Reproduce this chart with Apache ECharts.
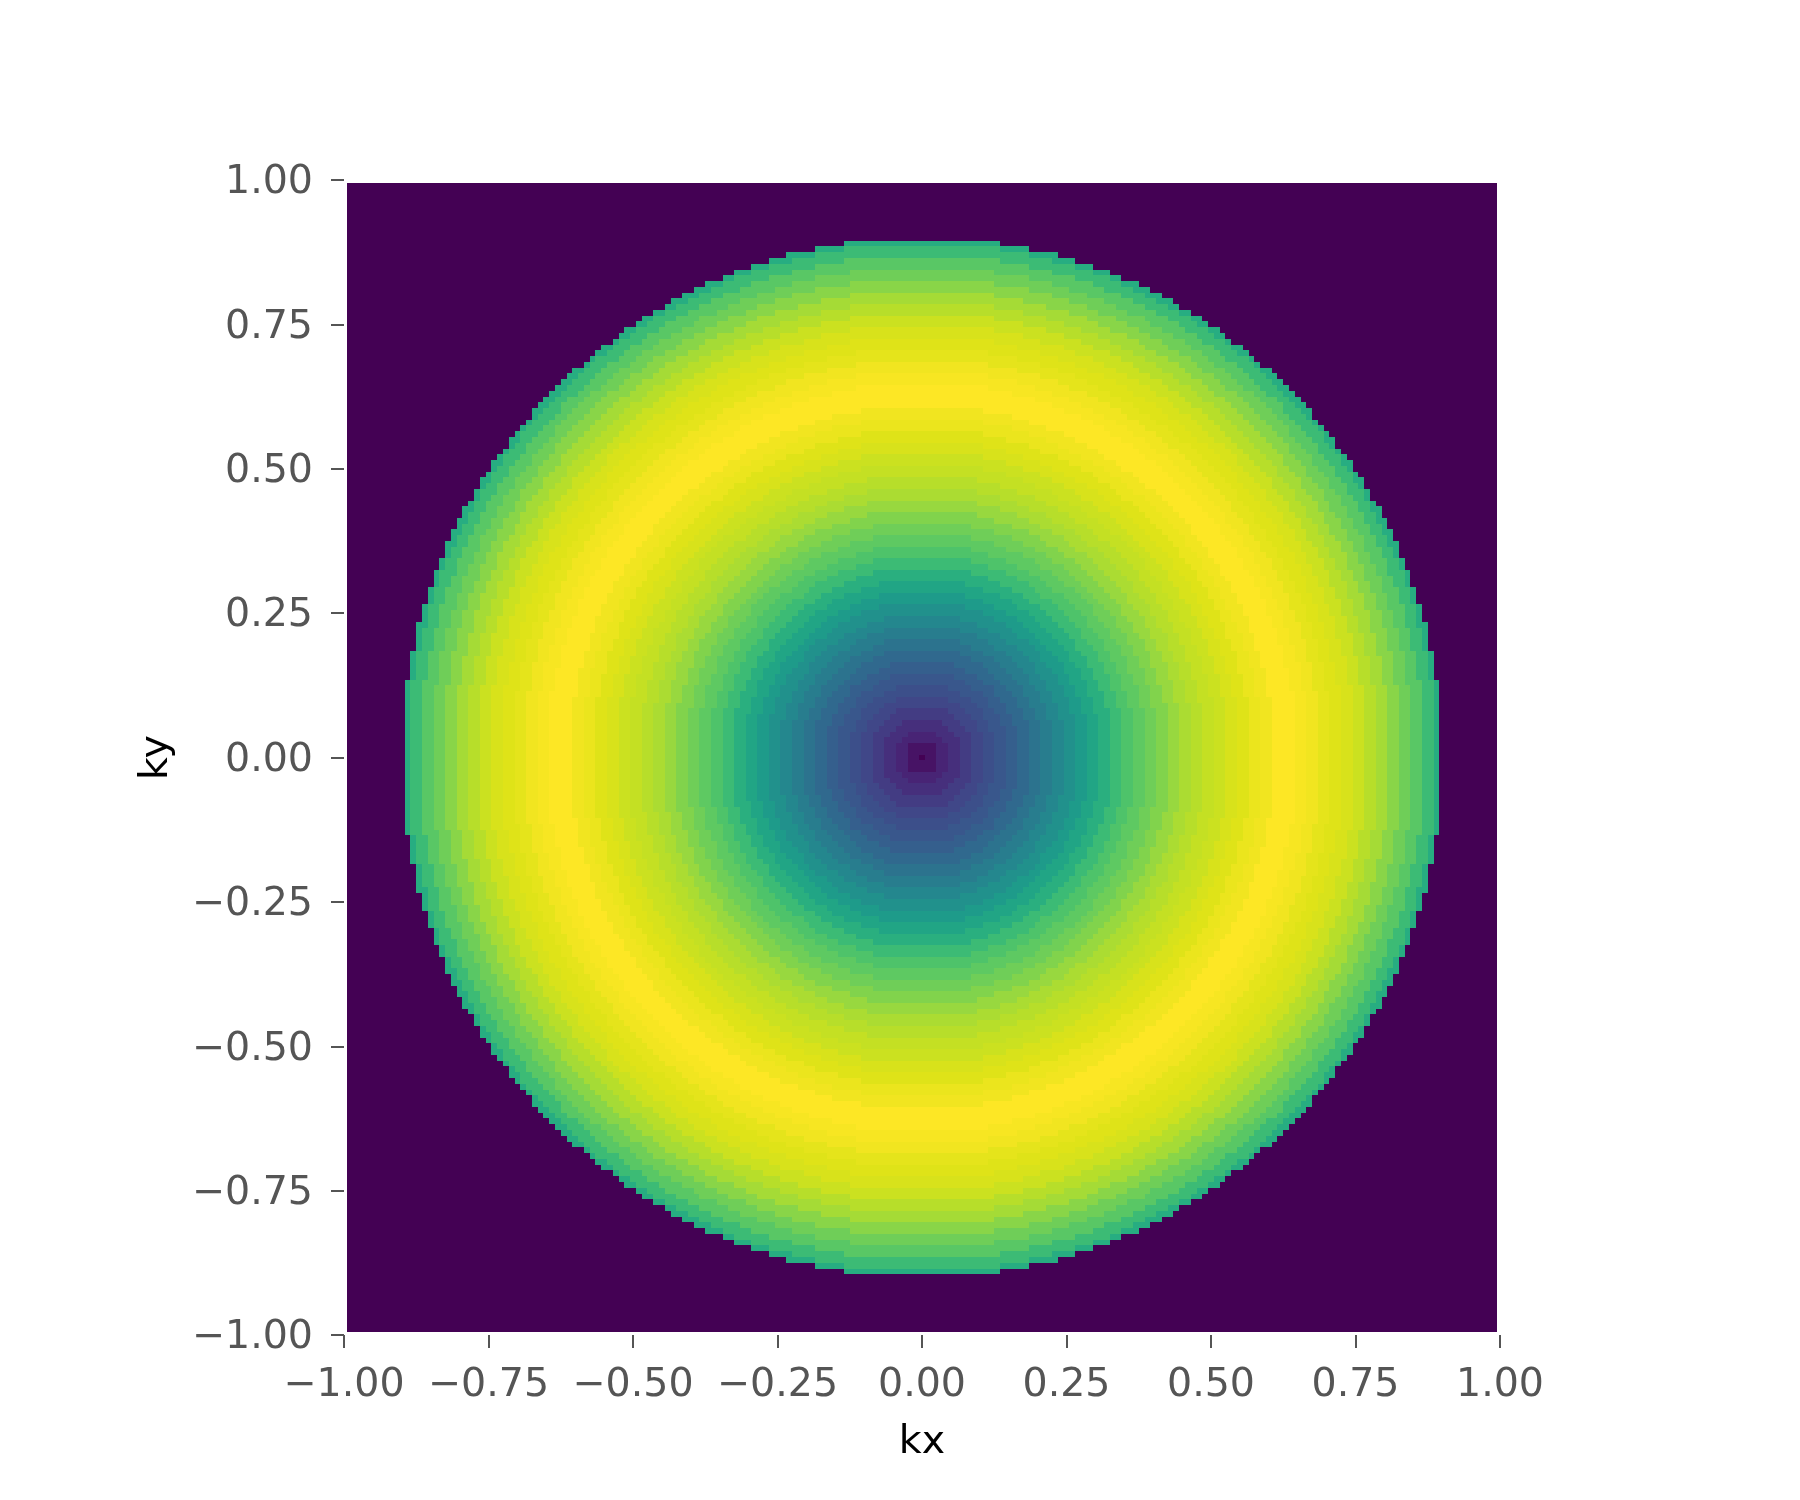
<!DOCTYPE html>
<html><head><meta charset="utf-8">
<script src="https://cdn.jsdelivr.net/npm/echarts@6/dist/echarts.min.js"></script>
<style>html,body{margin:0;padding:0;background:#fff}#chart{width:1800px;height:1500px}</style>
</head><body><div id="chart"></div>
<script>
// ---- data ----
const tickValues = [-1.0, -0.75, -0.5, -0.25, 0.0, 0.25, 0.5, 0.75, 1.0];
const xAxisName = 'kx';
const yAxisName = 'ky';
const profileRadii = [0.00, 0.02, 0.04, 0.06, 0.08, 0.10, 0.12, 0.14, 0.16, 0.18,
                      0.20, 0.22, 0.24, 0.26, 0.28, 0.30, 0.32, 0.34, 0.36, 0.38,
                      0.40, 0.42, 0.44, 0.46, 0.48, 0.50, 0.52, 0.54, 0.56, 0.58,
                      0.60, 0.62, 0.64, 0.66, 0.68, 0.70, 0.72, 0.74, 0.76, 0.78,
                      0.80, 0.82, 0.84, 0.86, 0.88, 0.90];
const profileValues = [0.00, 0.05, 0.10, 0.13, 0.17, 0.21, 0.24, 0.27, 0.30, 0.34,
                       0.38, 0.42, 0.46, 0.50, 0.55, 0.59, 0.63, 0.68, 0.72, 0.75,
                       0.78, 0.81, 0.84, 0.87, 0.89, 0.91, 0.92, 0.94, 0.95, 0.97,
                       0.98, 1.00, 1.00, 0.99, 0.98, 0.96, 0.95, 0.94, 0.92, 0.89,
                       0.86, 0.82, 0.78, 0.74, 0.68, 0.62];
const discRadius = 0.9;      // outside this |k| the value is the minimum
const outsideValue = 0.0;
const cellSize = 0.01;       // grid spacing in k
const cellCount = 199;       // cell centres from -0.99 to 0.99
const viridis = ['#440154','#471365','#482475','#453781','#414487','#3b528b','#355f8d',
                 '#2f6c8e','#2a788e','#25848e','#21918c','#1e9b8a','#22a884','#2fb47c',
                 '#44bf70','#5ec962','#7ad151','#9fda3a','#bddf26','#dfe318','#fde725'];

// ---- build grid ----
const kCentres = Array.from({length: cellCount}, (_, i) => +(-0.99 + i * cellSize).toFixed(2));
function profileAt(r) {
  const rr = r + 1e-6;   // break exact ties outward
  let best = 0, bd = Infinity;
  for (let i = 0; i < profileRadii.length; i++) {
    const d = Math.abs(profileRadii[i] - rr);
    if (d < bd) { bd = d; best = i; }
  }
  return profileValues[best];
}
const cells = [];
for (const ky of kCentres) {
  for (const kx of kCentres) {
    const r = Math.hypot(kx, ky);
    cells.push([kx, ky, r < discRadius - 1e-6 ? profileAt(r) : outsideValue]);
  }
}

const fmt = v => (v < 0 ? '\u2212' : '') + Math.abs(v).toFixed(2);
const font = 'DejaVu Sans';
const half = cellSize / 2;

const chart = echarts.init(document.getElementById('chart'), null, {renderer: 'canvas'});
chart.setOption({
  backgroundColor: '#ffffff',
  animation: false,
  grid: {left: 344, top: 180, width: 1156, height: 1155, containLabel: false},
  visualMap: {
    show: false, type: 'continuous', min: 0, max: 1, dimension: 2,
    inRange: {color: viridis}
  },
  xAxis: {
    type: 'value', min: tickValues[0], max: tickValues[tickValues.length - 1],
    interval: 0.25,
    axisLine: {show: false, onZero: false},
    axisTick: {show: true, length: 13, lineStyle: {color: '#555555', width: 2}},
    axisLabel: {color: '#555555', fontSize: 39.5, fontFamily: font, margin: 31,
                formatter: fmt, showMinLabel: true, showMaxLabel: true},
    splitLine: {show: false},
    name: xAxisName, nameLocation: 'middle', nameGap: 88,
    nameTextStyle: {color: '#000000', fontSize: 39.5, fontFamily: font}
  },
  yAxis: {
    type: 'value', min: tickValues[0], max: tickValues[tickValues.length - 1],
    interval: 0.25,
    axisLine: {show: false, onZero: false},
    axisTick: {show: true, length: 13, lineStyle: {color: '#555555', width: 2}},
    axisLabel: {color: '#555555', fontSize: 39.5, fontFamily: font, margin: 31,
                verticalAlign: 'top', lineHeight: 6,
                formatter: fmt, showMinLabel: true, showMaxLabel: true},
    splitLine: {show: false},
    name: yAxisName, nameLocation: 'middle', nameGap: 167, nameRotate: 90,
    nameTextStyle: {color: '#000000', fontSize: 39.5, fontFamily: font}
  },
  series: [{
    type: 'custom',
    progressive: 0,
    silent: true,
    encode: {x: 0, y: 1},
    data: cells,
    renderItem: function (params, api) {
      const x = api.value(0), y = api.value(1);
      const p0 = api.coord([x - half, y + half]);
      const p1 = api.coord([x + half, y - half]);
      const x0 = Math.round(p0[0]), y0 = Math.round(p0[1]);
      const x1 = Math.round(p1[0]), y1 = Math.round(p1[1]);
      return {
        type: 'rect',
        shape: {x: x0, y: y0, width: x1 - x0, height: y1 - y0},
        style: {fill: api.visual('color'), stroke: null}
      };
    }
  }]
});
</script>
</body></html>
